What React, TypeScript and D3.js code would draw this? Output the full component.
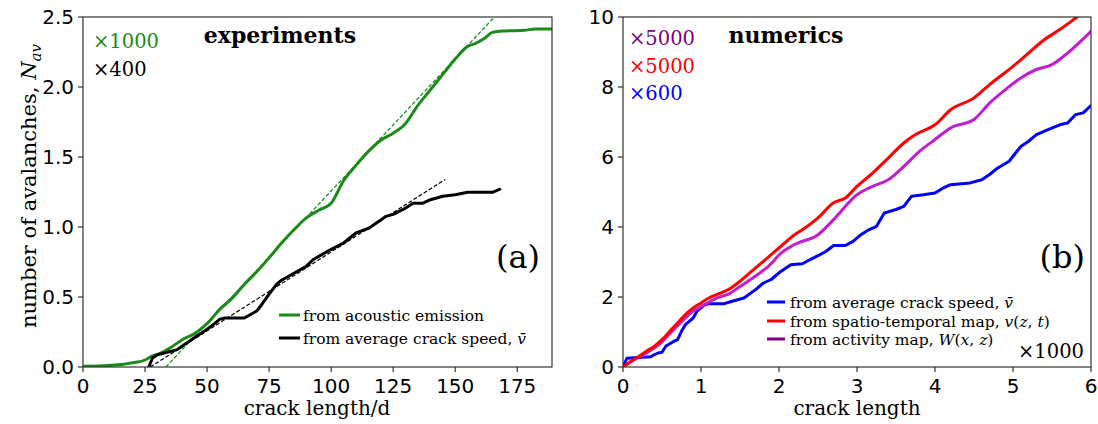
import React from "react";
import * as d3 from "d3";

// ---------- Panel (a): experiments ----------
const expX = [0, 10, 20, 25, 28, 30, 35, 40, 45, 50, 55, 60, 65, 70, 75, 80, 85, 90, 95, 100, 105, 110, 115, 120, 125, 130, 135, 140, 145, 150, 155, 158, 162, 165, 170, 178, 182, 189];
const expAcoustic = [0.005, 0.01, 0.03, 0.05, 0.08, 0.09, 0.135, 0.195, 0.24, 0.31, 0.41, 0.49, 0.59, 0.68, 0.78, 0.885, 0.98, 1.065, 1.12, 1.17, 1.33, 1.44, 1.54, 1.62, 1.67, 1.74, 1.87, 1.98, 2.09, 2.2, 2.29, 2.31, 2.35, 2.39, 2.4, 2.405, 2.415, 2.415];
const speedX = [26.5, 28, 30, 35, 38, 40, 45, 50, 53, 55, 57, 60, 65, 67, 70, 72, 75, 78, 80, 85, 90, 93, 95, 100, 105, 110, 115, 120, 122, 125, 130, 133, 137, 140, 145, 150, 155, 165, 168];
const expSpeed = [0, 0.064, 0.088, 0.11, 0.124, 0.15, 0.21, 0.27, 0.31, 0.34, 0.35, 0.35, 0.35, 0.37, 0.4, 0.445, 0.52, 0.59, 0.62, 0.67, 0.72, 0.77, 0.79, 0.84, 0.886, 0.957, 0.99, 1.05, 1.076, 1.09, 1.135, 1.17, 1.17, 1.195, 1.22, 1.23, 1.248, 1.248, 1.27];
const fitAcousticX = [33.4, 165.8];
const fitAcousticY = [0, 2.5];
const fitSpeedX = [27.1, 146];
const fitSpeedY = [0, 1.34];
const expXTicks = [0, 25, 50, 75, 100, 125, 150, 175];
const expYTicks = [0, 0.5, 1.0, 1.5, 2.0, 2.5];

// ---------- Panel (b): numerics ----------
const mapX = [0, 0.1, 0.2, 0.3, 0.4, 0.5, 0.6, 0.7, 0.8, 0.9, 1.0, 1.1, 1.2, 1.35, 1.5, 1.6, 1.8, 2.0, 2.2, 2.3, 2.5, 2.7, 2.85, 3.0, 3.2, 3.4, 3.6, 3.75, 4.0, 4.2, 4.5, 4.7, 5.0, 5.2, 5.4, 5.6, 5.82, 6.0];
const mapSpatio = [0, 0.16, 0.3, 0.45, 0.59, 0.78, 1.02, 1.26, 1.5, 1.69, 1.83, 1.97, 2.07, 2.21, 2.45, 2.64, 3.02, 3.4, 3.78, 3.92, 4.26, 4.69, 4.83, 5.16, 5.54, 5.97, 6.4, 6.64, 6.92, 7.35, 7.69, 8.07, 8.59, 8.97, 9.35, 9.64, 10.0, 10.3];
const actX = [0, 0.1, 0.2, 0.3, 0.4, 0.5, 0.6, 0.7, 0.8, 0.9, 1.0, 1.1, 1.2, 1.35, 1.5, 1.7, 1.9, 2.0, 2.2, 2.5, 2.7, 3.0, 3.2, 3.4, 3.6, 3.8, 4.0, 4.2, 4.5, 4.7, 4.9, 5.1, 5.3, 5.5, 5.7, 6.0];
const mapActivity = [0, 0.15, 0.28, 0.4, 0.54, 0.72, 0.95, 1.18, 1.4, 1.6, 1.72, 1.85, 1.97, 2.08, 2.3, 2.6, 2.95, 3.2, 3.5, 3.78, 4.21, 4.92, 5.16, 5.35, 5.73, 6.16, 6.5, 6.83, 7.07, 7.54, 7.92, 8.26, 8.5, 8.64, 8.97, 9.59];
const avgX = [0, 0.05, 0.1, 0.35, 0.4, 0.45, 0.5, 0.55, 0.65, 0.7, 0.75, 0.8, 0.9, 0.95, 1.05, 1.1, 1.3, 1.4, 1.55, 1.7, 1.8, 1.9, 2.0, 2.15, 2.3, 2.4, 2.5, 2.6, 2.7, 2.85, 2.95, 3.05, 3.15, 3.25, 3.35, 3.5, 3.6, 3.7, 3.85, 4.0, 4.1, 4.2, 4.45, 4.6, 4.7, 4.8, 4.95, 5.0, 5.1, 5.2, 5.3, 5.45, 5.6, 5.7, 5.8, 5.9, 6.0];
const mapAvg = [0, 0.25, 0.26, 0.29, 0.35, 0.4, 0.42, 0.6, 0.73, 0.78, 1.02, 1.21, 1.4, 1.6, 1.78, 1.81, 1.81, 1.88, 1.97, 2.21, 2.4, 2.5, 2.69, 2.92, 2.95, 3.07, 3.18, 3.3, 3.47, 3.47, 3.59, 3.78, 3.92, 4.02, 4.4, 4.5, 4.59, 4.88, 4.92, 4.97, 5.11, 5.21, 5.26, 5.35, 5.5, 5.68, 5.88, 6.02, 6.3, 6.45, 6.64, 6.78, 6.92, 6.97, 7.21, 7.26, 7.47];
const numXTicks = [0, 1, 2, 3, 4, 5, 6];
const numYTicks = [0, 2, 4, 6, 8, 10];

const SERIF = "'DejaVu Serif', serif";
const SANS = "'DejaVu Sans', sans-serif";

const top = 17, bottom = 367;

type Series = { xs: number[]; ys: number[]; color: string; width: number; dash?: string; smooth?: boolean };

function Panel(props: {
  id: string; left: number; right: number; xDomain: [number, number]; yDomain: [number, number];
  xTicks: number[]; yTicks: number[]; yFmt: (v: number) => string; series: Series[]; children?: React.ReactNode;
}) {
  const { id, left, right, xDomain, yDomain, xTicks, yTicks, yFmt, series } = props;
  const x = d3.scaleLinear().domain(xDomain).range([left, right]);
  const y = d3.scaleLinear().domain(yDomain).range([bottom, top]);
  return (
    <g>
      <defs>
        <clipPath id={id}>
          <rect x={left} y={top} width={right - left} height={bottom - top} />
        </clipPath>
      </defs>
      <g clipPath={`url(#${id})`}>
        {series.map((s, i) => {
          const line = d3.line<[number, number]>().x(d => x(d[0])).y(d => y(d[1]))
            .curve(s.smooth ? d3.curveMonotoneX : d3.curveLinear);
          return (
            <path key={i} d={line(s.xs.map((v, j) => [v, s.ys[j]] as [number, number])) || ""}
              fill="none" stroke={s.color} strokeWidth={s.width} strokeDasharray={s.dash}
              strokeLinejoin="round" strokeLinecap={s.dash ? "butt" : "round"} />
          );
        })}
      </g>
      <rect x={left} y={top} width={right - left} height={bottom - top} fill="none" stroke="#333" strokeWidth={1.2} />
      {xTicks.map(t => (
        <g key={"x" + t}>
          <line x1={x(t)} x2={x(t)} y1={bottom} y2={bottom + 5} stroke="#333" strokeWidth={1.2} />
          <text x={x(t)} y={bottom + 26} textAnchor="middle" fontFamily={SANS} fontSize={20} fill="#000">{t}</text>
        </g>
      ))}
      {yTicks.map(t => (
        <g key={"y" + t}>
          <line x1={left - 5} x2={left} y1={y(t)} y2={y(t)} stroke="#333" strokeWidth={1.2} />
          <text x={left - 9} y={y(t) + 7} textAnchor="end" fontFamily={SANS} fontSize={20} fill="#000">{yFmt(t)}</text>
        </g>
      ))}
      {props.children}
    </g>
  );
}

export default function App() {
  const expSeries: Series[] = [
    { xs: expX, ys: expAcoustic, color: "#1a8a1a", width: 3, smooth: true },
    { xs: fitAcousticX, ys: fitAcousticY, color: "#1a8a1a", width: 1.2, dash: "4,2" },
    { xs: speedX, ys: expSpeed, color: "#000", width: 3 },
    { xs: fitSpeedX, ys: fitSpeedY, color: "#000", width: 1.2, dash: "4,2" },
  ];
  const numSeries: Series[] = [
    { xs: avgX, ys: mapAvg, color: "#0000ff", width: 3 },
    { xs: actX, ys: mapActivity, color: "#bf1fcf", width: 3, smooth: true },
    { xs: mapX, ys: mapSpatio, color: "#ff0000", width: 3, smooth: true },
  ];
  return (
    <svg width={1098} height={424} style={{ position: "absolute", left: 0, top: 0, background: "#fff" }}>
      <Panel id="clipA" left={83} right={552} xDomain={[0, 189]} yDomain={[0, 2.5]} xTicks={expXTicks} yTicks={expYTicks}
        yFmt={v => v.toFixed(1)} series={expSeries}>
        <text x={93} y={48} fontFamily={SERIF} fontSize={19.5} fill="#1a8a1a">×1000</text>
        <text x={93} y={76} fontFamily={SERIF} fontSize={19.5} fill="#000">×400</text>
        <text x={280} y={43} textAnchor="middle" fontFamily={SERIF} fontSize={22} fontWeight="bold" fill="#000">experiments</text>
        <text x={540} y={268} textAnchor="end" fontFamily={SERIF} fontSize={32} fill="#000">(a)</text>
        <line x1={279} x2={300} y1={315} y2={315} stroke="#1a8a1a" strokeWidth={3} />
        <text x={303} y={321} fontFamily={SERIF} fontSize={15.5} fill="#000">from acoustic emission</text>
        <line x1={279} x2={300} y1={338} y2={338} stroke="#000" strokeWidth={3} />
        <text x={303} y={344} fontFamily={SERIF} fontSize={15.5} fill="#000">from average crack speed, <tspan fontStyle="italic">v̄</tspan></text>
        <text x={317} y={415} textAnchor="middle" fontFamily={SERIF} fontSize={20} fill="#000">crack length/d</text>
        <text transform="translate(36,186) rotate(-90)" textAnchor="middle" fontFamily={SERIF} fontSize={21} fill="#000">
          number of avalanches, <tspan fontStyle="italic">N</tspan><tspan fontStyle="italic" fontSize={15} dy={5}>av</tspan>
        </text>
      </Panel>
      <Panel id="clipB" left={623} right={1091} xDomain={[0, 6]} yDomain={[0, 10]} xTicks={numXTicks} yTicks={numYTicks}
        yFmt={v => String(v)} series={numSeries}>
        <text x={629} y={45} fontFamily={SERIF} fontSize={19.5} fill="#800080">×5000</text>
        <text x={629} y={73} fontFamily={SERIF} fontSize={19.5} fill="#ff0000">×5000</text>
        <text x={629} y={100} fontFamily={SERIF} fontSize={19.5} fill="#0000ff">×600</text>
        <text x={786} y={43} textAnchor="middle" fontFamily={SERIF} fontSize={22} fontWeight="bold" fill="#000">numerics</text>
        <text x={1085} y={268} textAnchor="end" fontFamily={SERIF} fontSize={32} fill="#000">(b)</text>
        <line x1={767} x2={785} y1={302} y2={302} stroke="#0000ff" strokeWidth={3} />
        <text x={790} y={308} fontFamily={SERIF} fontSize={15.5} fill="#000">from average crack speed, <tspan fontStyle="italic">v̄</tspan></text>
        <line x1={767} x2={785} y1={321} y2={321} stroke="#ff0000" strokeWidth={3} />
        <text x={790} y={327} fontFamily={SERIF} fontSize={15.5} fill="#000">from spatio-temporal map, <tspan fontStyle="italic">v</tspan>(<tspan fontStyle="italic">z</tspan>, <tspan fontStyle="italic">t</tspan>)</text>
        <line x1={767} x2={785} y1={339} y2={339} stroke="#800080" strokeWidth={3} />
        <text x={790} y={345} fontFamily={SERIF} fontSize={15.5} fill="#000">from activity map, <tspan fontStyle="italic">W</tspan>(<tspan fontStyle="italic">x</tspan>, <tspan fontStyle="italic">z</tspan>)</text>
        <text x={1084} y={358} textAnchor="end" fontFamily={SERIF} fontSize={19.5} fill="#000">×1000</text>
        <text x={857} y={415} textAnchor="middle" fontFamily={SERIF} fontSize={20} fill="#000">crack length</text>
      </Panel>
    </svg>
  );
}
